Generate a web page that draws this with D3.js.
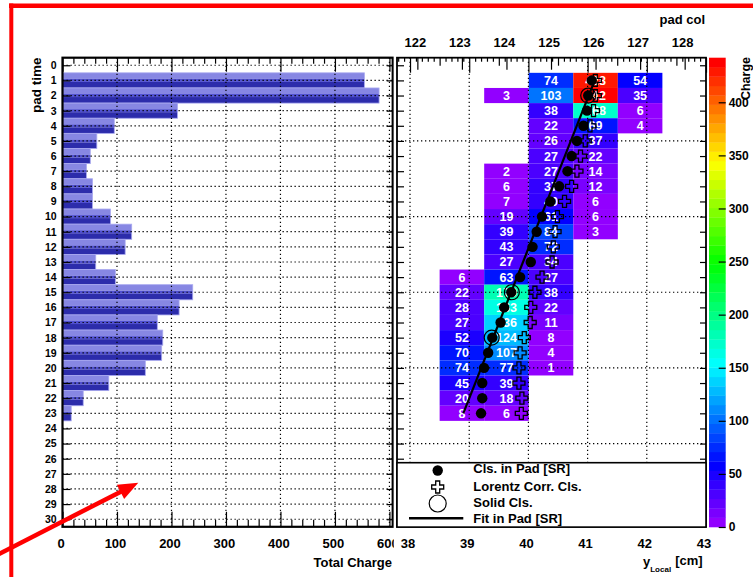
<!DOCTYPE html>
<html><head><meta charset="utf-8">
<script src="https://cdn.jsdelivr.net/npm/d3@7/dist/d3.min.js"></script>
<style>
body{margin:0;background:#fff}
svg{display:block}
text{font-family:"Liberation Sans",Arial,Helvetica,sans-serif;font-weight:bold}
</style></head>
<body><svg id="c" width="753" height="577"></svg>
<script>
// ---------------- data ----------------
const padTimeTicks = [0,1,2,3,4,5,6,7,8,9,10,11,12,13,14,15,16,17,18,19,20,21,22,23,24,25,26,27,28,29,30];
const chargeTicks  = [0,100,200,300,400,500,600];
const cmTicks      = [38,39,40,41,42,43];
const padColTicks  = [122,123,124,125,126,127,128];
const zTicks       = [0,50,100,150,200,250,300,350,400];

// left panel: total charge per pad time
const barTime     = [1,2,3,4,5,6,7,8,9,10,11,12,13,14,15,16,17,18,19,20,21,22,23];
const totalCharge = [554,581,211,95,63,51,44,55,55,88,127,115,61,97,239,214,174,184,182,152,85,38,16];

// right panel: charge per (pad time, pad col)
const cellTime   = [1,1,1, 2,2,2,2, 3,3,3, 4,4,4, 5,5, 6,6, 7,7,7, 8,8,8, 9,9,9, 10,10,10, 11,11,11, 12,12, 13,13,
                    14,14,14, 15,15,15, 16,16,16, 17,17,17, 18,18,18, 19,19,19, 20,20,20, 21,21, 22,22, 23,23];
const cellCol    = [125,126,127, 124,125,126,127, 125,126,127, 125,126,127, 125,126, 125,126, 124,125,126, 124,125,126,
                    124,125,126, 124,125,126, 124,125,126, 124,125, 124,125, 123,124,125, 123,124,125, 123,124,125,
                    123,124,125, 123,124,125, 123,124,125, 123,124,125, 123,124, 123,124, 123,124];
const cellCharge = [74,428,54, 3,103,442,35, 38,168,6, 22,69,4, 26,37, 27,22, 2,27,14, 6,37,12, 7,40,6, 19,61,6,
                    39,84,3, 43,72, 27,34, 6,63,27, 22,179,38, 28,163,22, 27,136,11, 52,124,8, 70,107,4, 74,77,1,
                    45,39, 20,18, 8,6];

// clusters (y local in cm) per pad time
const clsTime     = [1,2,3,4,5,6,7,8,9,10,11,12,13,14,15,16,17,18,19,20,21,22,23];
const clsY        = [41.07,41.01,40.99,40.93,40.82,40.73,40.66,40.52,40.37,40.23,40.14,40.07,40.04,39.86,39.71,39.59,39.53,39.39,39.32,39.25,39.22,39.22,39.20];
const lorentzY    = [41.13,41.13,41.10,41.04,40.96,40.88,40.82,40.73,40.61,40.49,40.45,40.42,40.40,40.23,40.11,40.04,40.03,39.93,39.86,39.84,39.84,39.89,39.88];
const solidTime   = [2,15,18];
const solidY      = [41.01,39.72,39.38];
const fitTime     = [1,23];
const fitY        = [41.12,38.90];
const zMax = 442;

const legendLabels = ["Cls. in Pad [SR]","Lorentz Corr. Cls.","Solid Cls.","Fit in Pad [SR]"];

// ---------------- setup ----------------
const svg = d3.select("#c");
const FONT = '"Liberation Sans",Arial,Helvetica,sans-serif';
const fmt = d3.format("d");
svg.append("rect").attr("width",753).attr("height",577).attr("fill","#fff");

const yT   = d3.scaleLinear().domain([-0.5,30.5]).range([57.7,526.8]);
const xQ   = d3.scaleLinear().domain([0,606]).range([62.5,392.7]);
const xCm  = d3.scaleLinear().domain([37.78,43.0]).range([397,706]);
const xPad = d3.scaleLinear().domain([121.543,128.479]).range([397,706]);
const zS   = d3.scaleLinear().domain([0,zMax]).range([527,57.7]);
const NCOL = 50;
const palette = d3.range(NCOL).map(i => d3.hsl(280-(i+1)*(280/NCOL),1,0.5).formatHex());
const zColor = v => palette[Math.min(NCOL-1, Math.floor(v/zMax*NCOL+0.001))];

function styleAxis(g, fs){
  g.select(".domain").remove();
  g.selectAll(".tick line").attr("stroke","#000").attr("stroke-width",1.2);
  g.selectAll("text").attr("font-size",fs).attr("font-weight","bold").attr("fill","#000").attr("font-family",FONT);
}
const dotted = sel => sel.attr("stroke","#000").attr("stroke-width",1.2).attr("stroke-dasharray","1.3 2.7");

// ---------------- left panel ----------------
const L = svg.append("g");
const bars = L.selectAll("g.bar").data(barTime.map((t,i)=>({t,v:totalCharge[i]}))).join("g");
const seg = [[0,0.4,"#8787e3"],[0.4,0.2,"#5050d0"],[0.6,0.4,"#2c2cab"]];
seg.forEach(([o,f,c])=>{
  bars.append("rect")
    .attr("x",xQ(0)).attr("width",d=>xQ(d.v)-xQ(0))
    .attr("y",d=>yT(d.t-0.5)+o*(yT(d.t+0.5)-yT(d.t-0.5)))
    .attr("height",d=>f*(yT(d.t+0.5)-yT(d.t-0.5)))
    .attr("fill",c);
});
bars.append("rect").attr("x",xQ(0)).attr("width",d=>xQ(d.v)-xQ(0))
  .attr("y",d=>yT(d.t-0.5)).attr("height",d=>yT(d.t+0.5)-yT(d.t-0.5))
  .attr("fill","none").attr("stroke","#a8a8f0").attr("stroke-width",0.8);

// grid
L.selectAll("line.gx").data(chargeTicks.slice(1)).join("line")
  .attr("x1",d=>xQ(d)).attr("x2",d=>xQ(d)).attr("y1",yT(-0.5)).attr("y2",yT(30.5)).call(dotted);
L.selectAll("line.gy").data(padTimeTicks).join("line")
  .attr("x1",xQ(0)).attr("x2",xQ(606)).attr("y1",d=>yT(d)).attr("y2",d=>yT(d)).call(dotted);

// axes
const minorQ = d3.range(0,607,20).filter(v=>v%100!==0);
L.append("g").attr("transform",`translate(0,${yT(30.5)})`)
  .call(d3.axisBottom(xQ).tickValues(chargeTicks).tickFormat(fmt).tickSize(-15).tickPadding(11.7))
  .call(g=>styleAxis(g,13)).call(g=>g.selectAll("text").attr("dx",-2));
L.append("g").attr("transform",`translate(0,${yT(30.5)})`)
  .call(d3.axisBottom(xQ).tickValues(minorQ).tickSize(-7).tickFormat(""))
  .call(g=>styleAxis(g,13));
L.append("g").attr("transform",`translate(0,${yT(-0.5)})`)
  .call(d3.axisTop(xQ).tickValues(chargeTicks).tickSize(-14).tickFormat(""))
  .call(g=>styleAxis(g,13));
L.append("g").attr("transform",`translate(0,${yT(-0.5)})`)
  .call(d3.axisTop(xQ).tickValues(minorQ).tickSize(-6).tickFormat(""))
  .call(g=>styleAxis(g,13));
L.append("g").attr("transform",`translate(${xQ(0)},0)`)
  .call(d3.axisLeft(yT).tickValues(padTimeTicks).tickFormat(fmt).tickSize(-8).tickPadding(5.8))
  .call(g=>styleAxis(g,10.5));
L.append("g").attr("transform",`translate(${xQ(606)},0)`)
  .call(d3.axisRight(yT).tickValues(padTimeTicks).tickSize(-6).tickFormat(""))
  .call(g=>styleAxis(g,10.5));
// frame
L.append("rect").attr("x",xQ(0)).attr("y",yT(-0.5)).attr("width",xQ(606)-xQ(0)).attr("height",yT(30.5)-yT(-0.5))
  .attr("fill","none").attr("stroke","#000").attr("stroke-width",2.2);
// titles
L.append("text").attr("transform",`translate(41,57.5) rotate(-90)`).attr("text-anchor","end")
  .attr("font-size",13.5).text("pad time");
L.append("text").attr("x",392).attr("y",567.3).attr("text-anchor","end").attr("font-size",13).text("Total Charge");

// ---------------- right panel ----------------
const R = svg.append("g");
R.append("rect").attr("x",393.8).attr("y",9).attr("width",360).attr("height",568).attr("fill","#fff");

const cells = cellTime.map((t,i)=>({t,c:cellCol[i],v:cellCharge[i]}));
R.selectAll("rect.cell").data(cells).join("rect")
  .attr("x",d=>xPad(d.c-0.5)).attr("width",d=>xPad(d.c+0.5)-xPad(d.c-0.5))
  .attr("y",d=>yT(d.t-0.5)).attr("height",d=>yT(d.t+0.5)-yT(d.t-0.5))
  .attr("fill",d=>zColor(d.v));
// grid
R.selectAll("line.gx").data(cmTicks.slice(0,5)).join("line")
  .attr("x1",d=>xCm(d)).attr("x2",d=>xCm(d)).attr("y1",yT(-0.5)).attr("y2",yT(30.5)).call(dotted);
R.selectAll("line.gy").data([5,10,15,20,25]).join("line")
  .attr("x1",xCm(37.78)).attr("x2",xCm(43)).attr("y1",d=>yT(d)).attr("y2",d=>yT(d)).call(dotted);
// cell text
R.selectAll("text.cv").data(cells).join("text")
  .attr("x",d=>xPad(d.c)).attr("y",d=>yT(d.t)).attr("dy","0.36em").attr("text-anchor","middle")
  .attr("font-size",12.5).attr("fill","#fff").text(d=>d.v);

// axes
R.append("g").attr("transform",`translate(${xCm(37.78)},0)`)
  .call(d3.axisLeft(yT).tickValues(padTimeTicks).tickSize(-7).tickFormat("")).call(g=>styleAxis(g,10));
R.append("g").attr("transform",`translate(${xCm(43)},0)`)
  .call(d3.axisRight(yT).tickValues(padTimeTicks).tickSize(-6).tickFormat("")).call(g=>styleAxis(g,10));
const cmMinor = d3.range(378,431).map(v=>v/10).filter(v=>Math.abs(v*2-Math.round(v*2))>1e-6);
const cmHalf = [38.5,39.5,40.5,41.5,42.5];
R.append("g").attr("transform",`translate(0,${yT(-0.5)})`)
  .call(d3.axisTop(xCm).tickValues(cmTicks).tickSize(-15).tickFormat("")).call(g=>styleAxis(g,10));
R.append("g").attr("transform",`translate(0,${yT(-0.5)})`)
  .call(d3.axisTop(xCm).tickValues(cmHalf).tickSize(-8).tickFormat("")).call(g=>styleAxis(g,10));
R.append("g").attr("transform",`translate(0,${yT(-0.5)})`)
  .call(d3.axisTop(xCm).tickValues(cmMinor).tickSize(-4).tickFormat("")).call(g=>styleAxis(g,10));
R.append("g").attr("transform",`translate(0,${yT(-0.5)})`)
  .call(d3.axisTop(xPad).tickValues(padColTicks).tickFormat(fmt).tickSize(-12).tickPadding(11.2))
  .call(g=>styleAxis(g,13)).call(g=>g.selectAll("text").attr("dx",-2.5));
R.append("g").attr("transform",`translate(0,${yT(30.5)})`)
  .call(d3.axisBottom(xCm).tickValues(cmTicks).tickFormat(fmt).tickSize(0).tickPadding(11.7))
  .call(g=>styleAxis(g,13)).call(g=>g.selectAll("text").attr("dx",-2.5));
// frame
R.append("rect").attr("x",xCm(37.78)).attr("y",yT(-0.5)).attr("width",xCm(43)-xCm(37.78)).attr("height",yT(30.5)-yT(-0.5))
  .attr("fill","none").attr("stroke","#000").attr("stroke-width",1.8);
R.append("text").attr("x",705).attr("y",23.5).attr("text-anchor","end").attr("font-size",13).text("pad col");
const yl = R.append("text").attr("x",643).attr("y",566).attr("font-size",13);
yl.append("tspan").text("y");
yl.append("tspan").attr("font-size",8).attr("dy",6).text("Local");
yl.append("tspan").attr("font-size",13).attr("dy",-7).attr("dx",4).text("[cm]");

// markers
const crossPath = (a,b) => `M${-b},${-a}L${b},${-a}L${b},${-b}L${a},${-b}L${a},${b}L${b},${b}L${b},${a}L${-b},${a}L${-b},${b}L${-a},${b}L${-a},${-b}L${-b},${-b}Z`;
const line = d3.line().x(d=>xCm(d[1])).y(d=>yT(d[0]));
R.append("path").attr("d",line(fitTime.map((t,i)=>[t,fitY[i]]))).attr("stroke","#000").attr("stroke-width",2.2).attr("fill","none");
R.selectAll("circle.cls").data(clsTime.map((t,i)=>[t,clsY[i]])).join("circle")
  .attr("cx",d=>xCm(d[1])).attr("cy",d=>yT(d[0])).attr("r",5.2).attr("fill","#000");
R.selectAll("path.lc").data(clsTime.map((t,i)=>[t,lorentzY[i]])).join("path")
  .attr("transform",d=>`translate(${xCm(d[1])},${yT(d[0])})`).attr("d",crossPath(6,2))
  .attr("fill","none").attr("stroke","#000").attr("stroke-width",1.3);
R.selectAll("circle.sol").data(solidTime.map((t,i)=>[t,solidY[i]])).join("circle")
  .attr("cx",d=>xCm(d[1])).attr("cy",d=>yT(d[0])).attr("r",7.5).attr("fill","none").attr("stroke","#000").attr("stroke-width",1.2);

// legend
const lg = R.append("g");
lg.append("rect").attr("x",397).attr("y",462.7).attr("width",309).attr("height",64.4)
  .attr("fill","#fff").attr("stroke","#000").attr("stroke-width",1.6);
const ly = [468.5,486.5,502.5,518.3];
lg.append("circle").attr("cx",437.7).attr("cy",470.5).attr("r",5.2).attr("fill","#000");
lg.append("path").attr("transform","translate(437.7,487)").attr("d",crossPath(6,2)).attr("fill","none").attr("stroke","#000").attr("stroke-width",1.3);
lg.append("circle").attr("cx",437.7).attr("cy",503.5).attr("r",8.5).attr("fill","none").attr("stroke","#000").attr("stroke-width",1.2);
lg.append("line").attr("x1",409).attr("x2",463.3).attr("y1",518.3).attr("y2",518.3).attr("stroke","#000").attr("stroke-width",2.5);
lg.selectAll("text").data(legendLabels).join("text")
  .attr("x",473.3).attr("y",(d,i)=>ly[i]).attr("dy","0.36em").attr("font-size",13).text(d=>d);

// colour bar
const cb = svg.append("g");
cb.selectAll("rect").data(d3.range(NCOL)).join("rect")
  .attr("x",709).attr("width",16.7)
  .attr("y",k=>zS((k+1)*zMax/NCOL)).attr("height",k=>zS(k*zMax/NCOL)-zS((k+1)*zMax/NCOL)+0.3)
  .attr("fill",k=>palette[k]);
cb.append("g").attr("transform","translate(725.7,0)")
  .call(d3.axisRight(zS).tickValues(zTicks).tickFormat(fmt).tickSize(-7).tickPadding(3))
  .call(g=>styleAxis(g,12));
cb.append("text").attr("transform","translate(750,57) rotate(-90)").attr("text-anchor","end")
  .attr("font-size",12.5).text("Charge");

// ---------------- red annotation ----------------
const red = svg.append("g");
red.append("rect").attr("x",9).attr("y",3.5).attr("width",744).attr("height",4.5).attr("fill","#ff0000");
red.append("rect").attr("x",9.3).attr("y",3.5).attr("width",4).attr("height",574).attr("fill","#ff0000");
const tip=[138.3,482.7], tail=[-4,555.5];
const ux=(tip[0]-tail[0]), uy=(tip[1]-tail[1]), ul=Math.hypot(ux,uy);
const u=[ux/ul,uy/ul], n=[-u[1],u[0]];
const base=[tip[0]-20*u[0], tip[1]-20*u[1]];
red.append("line").attr("x1",tail[0]).attr("y1",tail[1]).attr("x2",base[0]+2*u[0]).attr("y2",base[1]+2*u[1])
  .attr("stroke","#ff0000").attr("stroke-width",4.5);
red.append("path").attr("d",`M${tip}L${base[0]+8*n[0]},${base[1]+8*n[1]}L${base[0]-8*n[0]},${base[1]-8*n[1]}Z`).attr("fill","#ff0000");
</script></body></html>
